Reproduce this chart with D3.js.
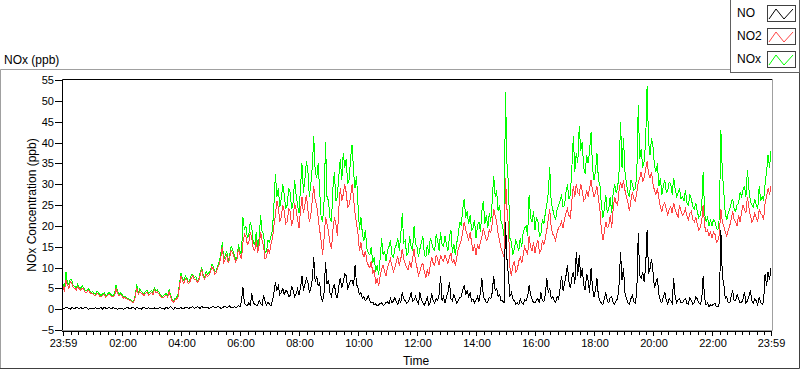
<!DOCTYPE html>
<html><head><meta charset="utf-8">
<script src="https://cdn.jsdelivr.net/npm/d3@7"></script>
<style>
body{margin:0;background:#fff}
svg{display:block}
text{font-family:"Liberation Sans",Arial,sans-serif;fill:#000}
</style>
</head><body>
<svg id="chart" width="800" height="369"></svg>
<script>
// ---- data ----
const seriesNames = ["NO", "NO2", "NOx"];
const sampleStepMinutes = 3; // one sample every 3 minutes starting at 23:59
const xTickMinutes = [0,121,241,361,481,601,721,841,961,1081,1201,1321,1440];
const xTickLabels = ["23:59","02:00","04:00","06:00","08:00","10:00","12:00","14:00","16:00","18:00","20:00","22:00","23:59"];
const yTickValues = [-5,0,5,10,15,20,25,30,35,40,45,50,55];

const NO = [
0.3,0.1,0.5,0.3,0.2,0.0,0.4,0.2,0.1,0.4,0.3,0.1,0.4,0.2,0.2,0.5,0.3,0.0,0.1,0.3,
0.2,0.0,0.4,0.1,0.1,0.3,0.3,0.0,0.5,0.2,0.2,0.4,0.3,0.1,0.4,0.2,0.2,0.0,0.3,0.1,
0.3,0.0,0.1,0.3,0.4,0.1,0.2,0.4,0.3,0.0,0.5,0.2,0.2,0.0,0.3,0.5,0.1,0.2,0.4,0.1,
0.2,0.0,0.3,0.1,0.1,0.3,0.4,0.1,0.2,0.0,0.5,0.2,0.3,0.6,0.2,0.0,0.4,0.1,0.3,0.2,
0.4,0.1,0.2,0.4,0.5,0.2,0.3,0.5,0.6,0.2,0.3,0.6,0.4,0.2,0.7,0.3,0.3,0.5,0.5,0.2,
0.3,0.5,0.6,0.3,0.4,0.7,0.5,0.2,0.3,0.6,0.7,0.4,0.5,0.8,0.4,0.3,0.6,0.4,0.5,0.8,
0.5,2.0,5.2,1.5,1.0,0.8,1.5,1.0,3.8,1.5,1.2,0.9,1.0,2.0,1.4,1.0,3.3,1.8,1.0,1.6,
1.2,0.8,2.0,4.0,6.5,4.5,5.5,3.5,4.0,5.0,3.5,4.5,4.2,3.0,3.3,5.5,4.5,3.0,3.6,4.8,
3.5,5.0,8.0,4.5,5.8,7.5,6.5,4.0,5.0,7.0,12.5,6.5,8.0,5.5,6.5,3.0,1.7,4.0,11.4,6.0,
7.0,4.0,3.0,5.0,6.0,3.5,2.6,5.5,7.5,5.0,6.5,8.5,8.0,5.0,5.8,7.0,7.0,5.5,10.6,6.0,
5.0,3.5,4.0,2.5,3.0,2.0,2.5,3.2,2.0,1.5,1.7,1.0,1.3,0.8,1.0,1.4,1.5,0.9,1.1,1.6,
1.8,1.2,2.6,1.5,2.0,2.8,1.7,1.2,2.4,1.6,4.0,2.5,2.0,1.4,1.8,2.6,4.0,1.8,2.2,3.0,
2.0,1.2,4.0,2.2,1.5,1.0,1.8,2.8,1.0,1.6,3.8,2.0,1.5,2.5,2.0,3.5,8.0,2.0,3.0,1.5,
3.0,4.0,6.5,2.5,2.0,3.5,2.5,1.5,2.0,2.8,3.0,4.5,5.8,3.5,4.5,3.0,4.0,2.0,2.5,1.5,
2.2,3.0,1.8,4.0,7.4,3.0,2.4,1.5,1.8,2.8,2.5,4.0,8.0,4.5,5.0,3.0,3.5,2.0,2.0,1.5,
21.0,12.0,8.0,3.0,4.0,2.5,2.0,1.2,1.5,1.0,2.4,1.5,1.2,2.2,2.0,3.0,5.8,3.5,2.5,1.5,
1.5,2.2,2.5,1.5,4.0,2.0,1.8,3.5,7.4,4.0,5.0,2.5,3.0,2.0,1.7,3.0,2.5,5.0,8.0,4.5,
6.0,8.0,10.5,6.5,5.0,7.5,9.0,6.0,13.7,8.0,13.0,7.5,9.8,6.0,4.5,8.5,7.0,4.0,9.8,5.0,
3.0,4.5,7.5,3.0,2.0,1.5,1.0,2.5,4.0,2.0,1.5,2.8,3.0,1.5,1.2,2.0,2.5,6.0,13.7,7.0,
9.8,4.0,2.5,1.5,1.2,2.5,3.3,1.8,1.5,4.0,18.2,8.0,7.4,9.0,6.5,10.0,19.0,8.5,9.8,12.0,
9.0,5.0,6.5,7.5,3.5,2.0,1.5,3.0,4.0,2.2,1.2,2.5,2.0,1.4,7.4,3.0,1.5,2.2,2.6,1.5,
1.5,2.2,2.6,1.4,1.2,2.8,2.0,1.2,1.5,3.0,2.5,1.5,1.2,2.0,8.0,2.5,1.0,1.5,0.6,1.0,
0.8,1.2,1.4,0.6,0.5,1.5,19.0,8.0,6.0,2.5,3.0,1.5,1.5,3.0,4.5,2.0,2.0,3.5,2.5,1.5,
1.5,2.5,4.0,1.5,2.0,3.0,4.5,2.0,1.5,2.5,2.0,1.0,3.0,1.5,1.2,1.8,8.5,5.5,9.0,7.0,9.8
];

const NO2 = [
5.5,4.2,7.0,5.8,5.0,6.6,6.2,5.2,5.0,4.6,5.5,4.9,4.5,5.1,4.8,4.1,4.0,4.5,4.2,3.6,
3.8,3.4,3.2,3.9,3.6,3.1,3.0,3.4,3.5,2.9,3.2,3.6,3.4,3.0,2.9,3.3,5.0,3.8,3.2,3.5,
3.2,2.6,2.8,2.5,2.3,2.1,2.0,1.6,1.7,3.0,5.0,3.6,4.2,3.9,3.6,3.2,3.8,4.1,3.4,3.6,
4.0,3.5,4.6,4.0,4.2,3.6,3.2,2.7,2.8,3.1,3.4,2.9,4.2,2.8,2.0,1.7,2.2,2.4,3.0,5.6,
8.0,6.8,6.2,7.4,7.0,6.1,6.5,7.6,8.0,7.0,7.2,6.4,6.8,8.2,9.5,7.8,7.2,8.4,7.8,8.2,
9.0,10.2,9.6,8.4,8.8,10.0,10.8,12.5,15.0,11.2,12.0,13.0,11.0,12.2,14.2,13.4,12.5,11.4,12.0,14.5,
13.0,12.0,16.0,18.0,17.5,15.5,16.0,18.5,17.0,14.5,14.0,16.5,13.5,15.5,18.5,16.5,15.0,12.0,12.5,14.5,
13.5,15.5,17.0,20.0,22.5,26.0,24.5,21.0,22.0,25.0,23.5,20.5,21.0,24.0,23.5,20.0,21.5,25.5,24.0,21.5,
19.5,23.5,27.0,23.0,25.0,27.5,24.0,21.0,22.5,26.0,29.5,26.0,25.0,22.0,19.0,16.5,13.0,17.0,22.0,20.5,
18.5,16.0,14.5,19.0,22.0,20.5,17.5,24.0,29.0,26.0,27.5,30.0,28.0,24.5,25.0,27.0,30.0,26.5,23.0,20.5,
18.0,14.0,16.0,13.5,12.5,14.0,11.5,10.5,10.0,11.5,8.5,9.5,6.0,7.5,5.5,8.0,9.5,10.5,9.0,8.0,
10.0,11.0,12.0,10.5,9.0,10.0,11.5,12.5,10.5,12.0,14.5,12.0,11.0,10.0,9.5,11.5,10.0,12.0,14.5,11.5,
10.0,8.0,9.0,10.5,11.0,9.0,7.5,9.5,8.0,10.5,12.5,11.0,10.5,13.0,12.0,10.5,13.0,12.0,11.5,13.0,
12.0,11.0,12.5,13.5,11.0,12.0,10.5,12.5,14.5,15.5,16.5,18.5,21.0,19.0,18.0,16.5,18.5,16.0,14.0,15.5,
13.0,15.5,14.5,16.0,17.5,19.5,18.0,16.5,17.0,19.0,18.5,20.5,24.0,22.5,21.0,18.0,16.5,14.5,13.5,12.5,
31.5,24.0,20.0,10.0,8.0,10.5,11.5,9.0,9.5,11.5,12.5,11.0,13.0,15.0,14.0,13.0,17.5,15.0,14.0,16.0,
13.5,15.5,16.5,13.5,14.0,16.5,15.5,17.0,19.0,21.5,24.0,19.5,18.0,17.5,16.5,18.5,19.5,20.0,21.0,19.5,
21.5,23.0,24.0,22.5,22.0,26.0,29.5,27.0,30.0,28.0,27.5,30.0,28.5,26.0,26.5,28.5,27.0,29.0,31.0,28.5,
27.0,28.0,29.5,26.5,24.0,19.0,16.5,18.5,21.0,19.5,20.0,22.5,19.5,24.0,27.0,25.5,25.0,28.5,30.5,29.0,
31.0,28.5,27.0,25.5,23.5,26.0,28.0,26.5,26.0,28.0,30.5,31.5,33.0,30.5,31.5,33.5,35.5,32.5,31.5,33.0,
30.0,28.5,27.5,29.0,26.5,24.5,23.5,25.0,25.5,24.0,22.5,24.0,24.5,23.0,25.5,24.0,23.0,22.0,25.0,23.5,
22.5,23.0,24.0,22.5,21.5,23.0,23.5,21.5,21.0,22.0,20.5,19.0,19.5,21.0,25.0,20.0,18.5,19.0,17.5,18.5,
17.0,18.5,18.0,16.0,16.5,18.0,24.0,21.0,20.0,18.5,17.5,19.0,20.0,21.5,23.5,21.5,21.0,20.0,22.5,21.0,
23.0,25.0,24.0,23.0,27.0,24.5,22.5,21.0,21.5,23.0,22.0,21.0,24.0,23.0,22.5,21.5,25.5,27.0,29.0,27.5,29.5
];

const NOx = [
6.0,4.5,9.0,6.2,6.0,7.2,7.0,5.6,5.5,5.0,6.0,5.3,5.0,5.6,5.2,4.5,4.5,4.9,4.6,4.0,
4.2,3.8,3.5,4.3,4.0,3.5,3.3,3.8,3.9,3.2,3.5,4.0,3.8,3.3,3.2,3.7,5.8,4.2,3.5,3.9,
3.5,2.9,3.0,2.8,2.6,2.4,2.3,1.9,2.0,3.4,6.0,4.0,4.8,4.3,4.0,3.6,4.3,4.6,3.8,4.1,
4.5,4.0,5.2,4.5,4.6,4.1,3.6,3.1,3.2,3.5,3.8,3.3,4.8,3.2,2.4,2.0,2.6,2.8,3.6,6.2,
8.6,7.4,6.8,8.0,7.4,6.6,7.0,8.2,8.4,7.6,7.8,6.9,7.2,8.8,10.0,8.4,7.6,9.0,8.4,8.8,
9.4,10.8,10.2,9.0,9.2,10.6,11.4,13.4,16.0,12.0,12.8,14.0,11.6,13.0,15.2,14.2,13.2,12.0,12.6,15.5,
14.0,13.0,22.0,19.0,20.0,17.0,18.0,21.0,19.5,16.0,15.5,18.5,15.0,17.0,22.5,18.5,18.0,13.5,14.0,16.5,
16.0,17.5,19.0,25.0,32.5,27.0,29.0,24.5,26.5,30.0,27.5,24.0,25.0,29.0,28.0,24.0,25.5,31.0,27.5,25.0,
23.0,29.0,35.0,28.0,31.0,35.5,33.5,27.0,30.0,34.0,41.5,33.0,31.5,35.0,28.5,22.0,21.0,26.0,40.0,27.0,
26.0,22.0,21.0,29.0,33.0,26.0,27.0,32.0,36.0,31.0,37.5,34.0,36.0,30.0,31.0,36.5,39.5,33.0,29.0,32.0,
25.0,19.0,22.0,18.0,16.5,19.0,14.5,13.5,13.0,15.0,11.0,12.5,9.0,10.5,8.2,12.0,17.0,13.0,14.0,11.5,
14.0,15.0,16.5,13.0,12.5,14.5,15.5,17.0,14.0,18.0,23.0,16.0,16.5,13.0,13.5,17.5,15.0,14.0,20.0,15.5,
15.0,12.5,14.5,16.0,17.5,13.0,12.5,15.5,13.0,17.0,16.0,14.5,14.0,18.0,16.5,14.0,18.5,15.5,15.0,17.5,
15.5,14.0,17.5,19.0,13.5,15.5,13.0,16.0,18.0,21.0,20.0,24.0,26.5,22.0,23.5,20.5,22.5,19.0,19.5,21.5,
17.0,20.0,21.0,18.5,23.5,26.0,20.5,22.5,19.5,23.0,21.0,26.0,32.0,27.0,28.5,23.5,25.0,21.0,20.0,17.5,
52.0,35.0,30.0,17.0,16.0,13.0,14.5,16.5,15.5,14.0,17.0,15.0,18.5,19.5,20.0,17.5,27.5,22.0,21.0,23.5,
19.0,22.0,21.0,17.5,18.0,21.5,20.5,23.0,25.0,28.0,34.0,25.5,24.0,22.5,21.5,24.0,25.0,26.0,27.5,24.5,
25.0,28.0,30.0,26.5,27.5,34.0,41.5,33.0,37.5,35.0,44.0,38.0,40.0,34.0,32.5,37.0,35.0,38.0,42.5,34.0,
31.0,33.0,37.5,31.0,30.0,25.0,22.0,24.0,27.5,23.0,24.0,27.0,23.0,28.0,30.0,28.0,29.0,33.0,45.0,34.0,
41.0,33.0,30.0,28.0,27.0,31.0,30.0,28.5,29.0,32.0,49.0,36.0,38.5,34.0,35.5,40.0,53.5,40.0,37.0,41.0,
39.0,34.5,33.0,35.0,29.5,31.5,27.5,29.5,31.0,28.0,28.5,30.5,30.0,27.5,31.5,29.0,27.0,28.0,29.0,26.5,
27.0,26.0,28.5,25.5,25.0,27.5,26.5,24.5,24.0,25.5,23.5,22.0,22.5,24.5,33.0,23.0,21.0,22.0,20.0,21.5,
20.0,21.5,21.0,19.5,19.0,22.0,43.0,33.0,28.0,23.0,21.5,23.0,24.0,25.5,26.5,24.0,23.5,25.0,25.5,28.0,
27.0,28.5,29.5,27.0,33.5,29.0,26.0,25.0,24.5,26.5,25.0,24.0,29.5,26.0,27.0,26.0,30.0,33.0,37.0,34.0,38.0
];

// ---- drawing ----
const svg = d3.select("#chart");
const plot = {left: 62, right: 772, top: 79, bottom: 330};

const x = d3.scaleLinear().domain([0, 1440]).range([63, 771]);
const y = d3.scaleLinear().domain([-5, 55]).range([330, 80]);

// outer frame
svg.append("path").attr("d", `M0.5,368.5 V69.5 H730`).attr("fill","none").attr("stroke","#a0a0a0");
svg.append("path").attr("d", `M0,368.5 H799.5 V72`).attr("fill","none").attr("stroke","#404040");

// chart title
svg.append("text").attr("x", 4).attr("y", 64).style("font-size","12px").text("NOx (ppb)");

// plot background + border
svg.append("rect").attr("x", plot.left).attr("y", plot.top).attr("width", plot.right-plot.left).attr("height", plot.bottom-plot.top).attr("fill","#fff");
svg.append("path").attr("d", `M${plot.left+0.5},${plot.bottom} V${plot.top+0.5} H${plot.right}`).attr("fill","none").attr("stroke","#000");
svg.append("path").attr("d", `M${plot.right+0.5},${plot.top} V${plot.bottom+0.5} H${plot.left}`).attr("fill","none").attr("stroke","#a0a0a0");

// y axis
const yAxis = d3.axisLeft(y).tickValues(yTickValues).tickSize(7).tickPadding(1).tickSizeOuter(0);
const gy = svg.append("g").attr("transform", `translate(${plot.left},0)`).call(yAxis);
gy.select(".domain").remove();
gy.selectAll("text").style("font-size","11px").style("font-family","'Liberation Sans',Arial,sans-serif");
gy.selectAll("line").attr("shape-rendering","crispEdges");

// x axis: minor ticks every 15 min, labelled majors
const minorTicks = d3.range(16, 1440, 15).filter(m => !xTickMinutes.includes(m));
svg.append("g").selectAll("line").data(minorTicks).join("line")
  .attr("x1", d => Math.round(x(d))+0.5).attr("x2", d => Math.round(x(d))+0.5)
  .attr("y1", 332).attr("y2", 335).attr("stroke","#000");
const xAxis = d3.axisBottom(x).tickValues(xTickMinutes).tickFormat((d,i) => xTickLabels[i]).tickSize(5).tickPadding(3).tickSizeOuter(0);
const gx = svg.append("g").attr("transform", `translate(0,331)`).call(xAxis);
gx.select(".domain").attr("d", `M${plot.left},0.5H${plot.right}`).attr("stroke","#000");
gx.selectAll("text").style("font-size","11px").style("font-family","'Liberation Sans',Arial,sans-serif");
gx.selectAll("line").attr("shape-rendering","crispEdges");

// axis titles
svg.append("text").attr("x", 416).attr("y", 365).attr("text-anchor","middle").style("font-size","12px").text("Time");
svg.append("text").attr("transform", `translate(36,${(80+330)/2}) rotate(-90)`).attr("text-anchor","middle").style("font-size","12px").text("NOx Concentration (ppb)");

// series
const line = d3.line().x((d,i) => x(i*sampleStepMinutes)).y(d => y(d)).curve(d3.curveLinear);
const gData = svg.append("g");
const drawOrder = [[NOx, "#00ff00"], [NO2, "#ff4646"], [NO, "#000000"]];
drawOrder.forEach(([arr, col]) => {
  gData.append("path").datum(arr).attr("d", line).attr("fill","none").attr("stroke", col).attr("stroke-width", 1).attr("shape-rendering","crispEdges");
});

// legend
const lg = svg.append("g");
lg.append("rect").attr("x", 730.5).attr("y", -0.5).attr("width", 69).attr("height", 73).attr("fill","#fff").attr("stroke","#606060");
const legendColors = ["#000000","#ff4646","#00ff00"];
seriesNames.forEach((name, i) => {
  const yy = 5 + i*23;
  lg.append("text").attr("x", 737).attr("y", yy+12).style("font-size","12px").text(name);
  lg.append("rect").attr("x", 767.5).attr("y", yy+0.5).attr("width", 28).attr("height", 16).attr("fill","#fff").attr("stroke","#404040");
  lg.append("polyline").attr("points", `769,${yy+14} 776,${yy+4} 784,${yy+14} 793,${yy+4}`).attr("fill","none").attr("stroke", legendColors[i]);
});
</script>
</body></html>
